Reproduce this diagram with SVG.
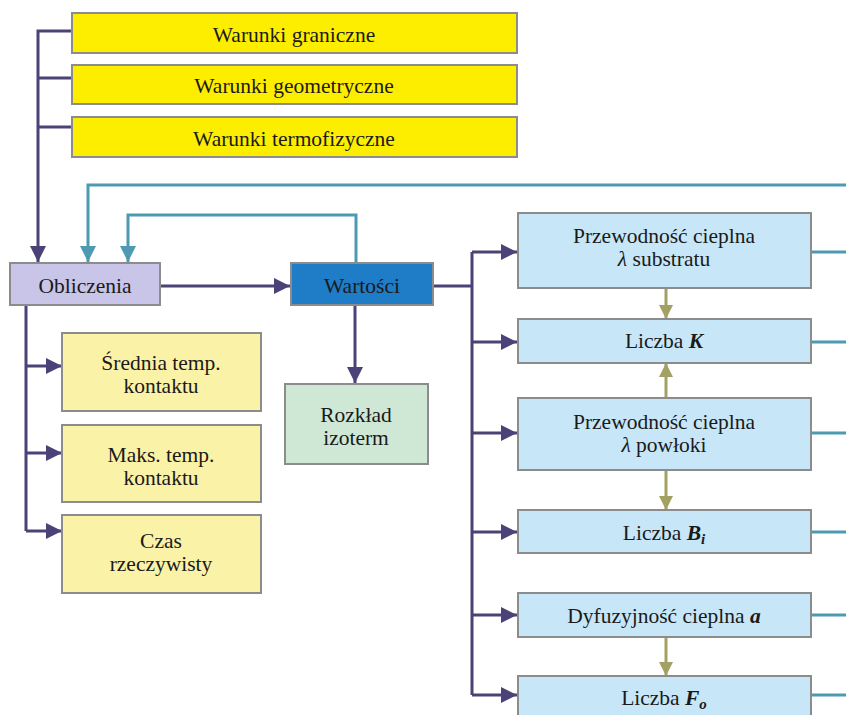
<svg xmlns="http://www.w3.org/2000/svg" width="846" height="715" viewBox="0 0 846 715">
<defs>
<style>
.box{stroke:#8c8c8c;stroke-width:2}
.y1{fill:#fdee00}
.y2{fill:#faf2a6}
.lav{fill:#c8c5e8}
.blu{fill:#1f7cc7}
.grn{fill:#cfe8d6}
.lb{fill:#c7e7f8}
.t{font-family:"Liberation Serif","Times New Roman",serif;font-size:21.5px;fill:#1a1a1a;text-anchor:middle}
.pl{fill:none;stroke:#4b4377;stroke-width:3}
.tl{fill:none;stroke:#4f9ab3;stroke-width:3}
.ol{fill:none;stroke:#a2a163;stroke-width:3}
</style>
<marker id="apb" markerWidth="16" markerHeight="16" viewBox="0 0 16 16" refX="16" refY="8" orient="auto" markerUnits="userSpaceOnUse"><path d="M0,0 L16,8 L0,16 z" fill="#4b4377"/></marker>
<marker id="at" markerWidth="16" markerHeight="16" viewBox="0 0 16 16" refX="16" refY="8" orient="auto" markerUnits="userSpaceOnUse"><path d="M0,0 L16,8 L0,16 z" fill="#4f9ab3"/></marker>
<marker id="ao" markerWidth="14" markerHeight="14" viewBox="0 0 14 14" refX="14" refY="7" orient="auto" markerUnits="userSpaceOnUse"><path d="M0,0 L14,7 L0,14 z" fill="#a2a163"/></marker>
</defs>
<rect width="846" height="715" fill="#ffffff"/>

<g id="connectors">
<path class="pl" d="M72,31 H38 V262" marker-end="url(#apb)"/>
<path class="pl" d="M72,78 H38"/>
<path class="pl" d="M72,127 H38"/>
<path class="tl" d="M846,185 H88 V262" marker-end="url(#at)"/>
<path class="tl" d="M356,262 V215 H128 V262" marker-end="url(#at)"/>
<path class="pl" d="M160,286 H290" marker-end="url(#apb)"/>
<path class="pl" d="M355,305 V383" marker-end="url(#apb)"/>
<path class="pl" d="M433,286 H472"/>
<path class="pl" d="M472,252 V695"/>
<path class="pl" d="M472,252 H517" marker-end="url(#apb)"/>
<path class="pl" d="M472,342 H517" marker-end="url(#apb)"/>
<path class="pl" d="M472,433 H517" marker-end="url(#apb)"/>
<path class="pl" d="M472,532 H517" marker-end="url(#apb)"/>
<path class="pl" d="M472,615 H517" marker-end="url(#apb)"/>
<path class="pl" d="M472,695 H517" marker-end="url(#apb)"/>
<path class="pl" d="M26,305 V531"/>
<path class="pl" d="M26,366 H62" marker-end="url(#apb)"/>
<path class="pl" d="M26,453 H62" marker-end="url(#apb)"/>
<path class="pl" d="M26,531 H62" marker-end="url(#apb)"/>
<path class="tl" d="M811,252 H846"/>
<path class="tl" d="M811,342 H846"/>
<path class="tl" d="M811,433 H846"/>
<path class="tl" d="M811,532 H846"/>
<path class="tl" d="M811,615 H846"/>
<path class="tl" d="M811,695 H846"/>
<path class="ol" d="M666,288 V319" marker-end="url(#ao)"/>
<path class="ol" d="M666,398 V363" marker-end="url(#ao)"/>
<path class="ol" d="M666,470 V510" marker-end="url(#ao)"/>
<path class="ol" d="M666,637 V676" marker-end="url(#ao)"/>
</g>

<g id="warunki-graniczne"><rect class="box y1" x="72" y="13" width="445" height="40"/><text class="t" x="294" y="42">Warunki graniczne</text></g>
<g id="warunki-geometryczne"><rect class="box y1" x="72" y="65" width="445" height="39"/><text class="t" x="294" y="93">Warunki geometryczne</text></g>
<g id="warunki-termofizyczne"><rect class="box y1" x="72" y="117" width="445" height="40"/><text class="t" x="294" y="146">Warunki termofizyczne</text></g>

<g id="obliczenia"><rect class="box lav" x="10" y="263" width="150" height="42"/><text class="t" x="85" y="293">Obliczenia</text></g>
<g id="wartosci"><rect class="box blu" x="291" y="263" width="142" height="42"/><text class="t" x="362" y="293">Wartości</text></g>
<g id="rozklad"><rect class="box grn" x="285" y="384" width="143" height="80"/><text class="t" x="356" y="422">Rozkład</text><text class="t" x="356" y="445">izoterm</text></g>

<g id="srednia"><rect class="box y2" x="62" y="333" width="199" height="78"/><text class="t" x="161" y="370">Średnia temp.</text><text class="t" x="161" y="393">kontaktu</text></g>
<g id="maks"><rect class="box y2" x="62" y="425" width="199" height="77"/><text class="t" x="161" y="462">Maks. temp.</text><text class="t" x="161" y="485">kontaktu</text></g>
<g id="czas"><rect class="box y2" x="62" y="515" width="199" height="78"/><text class="t" x="161" y="548">Czas</text><text class="t" x="161" y="571">rzeczywisty</text></g>

<g id="przew-substratu"><rect class="box lb" x="518" y="213" width="293" height="75"/><text class="t" x="664" y="243">Przewodność cieplna</text><text class="t" x="664" y="266"><tspan font-style="italic">λ</tspan> substratu</text></g>
<g id="liczba-k"><rect class="box lb" x="518" y="319" width="293" height="44"/><text class="t" x="664" y="348">Liczba <tspan font-weight="bold" font-style="italic">K</tspan></text></g>
<g id="przew-powloki"><rect class="box lb" x="518" y="398" width="293" height="72"/><text class="t" x="664" y="429">Przewodność cieplna</text><text class="t" x="664" y="452"><tspan font-style="italic">λ</tspan> powłoki</text></g>
<g id="liczba-bi"><rect class="box lb" x="518" y="510" width="293" height="43"/><text class="t" x="664" y="540">Liczba <tspan font-weight="bold" font-style="italic">B</tspan><tspan font-weight="bold" font-style="italic" font-size="15" dy="4">i</tspan></text></g>
<g id="dyfuzyjnosc"><rect class="box lb" x="518" y="593" width="293" height="44"/><text class="t" x="664" y="623">Dyfuzyjność cieplna <tspan font-weight="bold" font-style="italic">a</tspan></text></g>
<g id="liczba-fo"><rect class="box lb" x="518" y="676" width="293" height="45"/><text class="t" x="664" y="705">Liczba <tspan font-weight="bold" font-style="italic">F</tspan><tspan font-weight="bold" font-style="italic" font-size="15" dy="4">o</tspan></text></g>
</svg>
